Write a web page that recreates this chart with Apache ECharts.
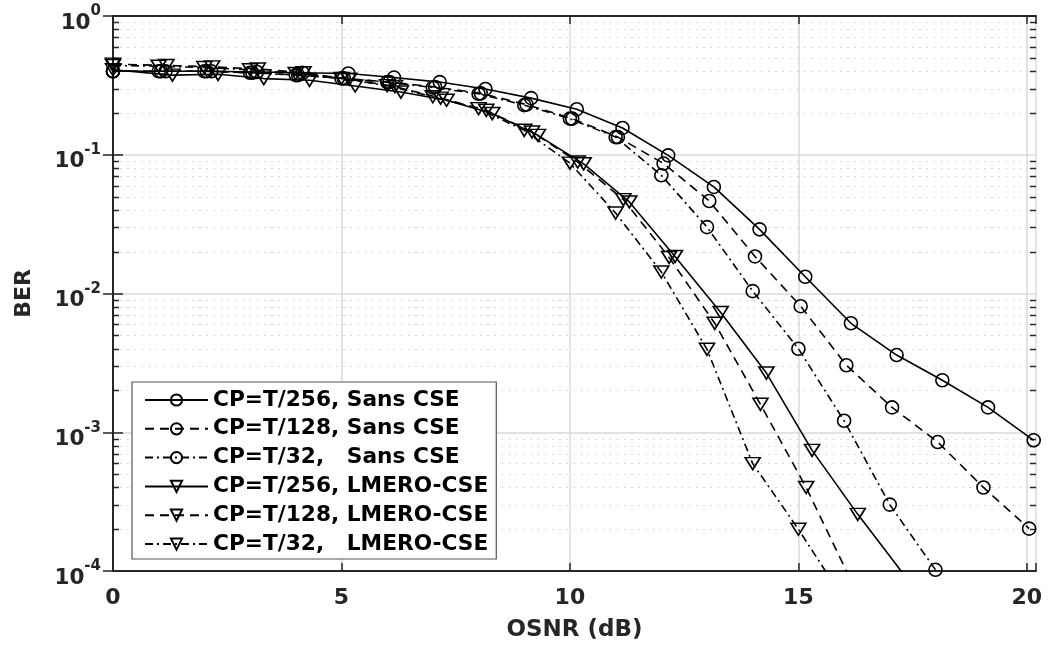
<!DOCTYPE html>
<html><head><meta charset="utf-8">
<script src="https://cdn.jsdelivr.net/npm/echarts@6/dist/echarts.min.js"></script>
<style>html,body{margin:0;padding:0;background:#fff}#c{width:1048px;height:650px}</style>
</head><body><div id="c"></div>
<script>
const seriesNames = ['CP=T/256, Sans CSE','CP=T/128, Sans CSE','CP=T/32,   Sans CSE','CP=T/256, LMERO-CSE','CP=T/128, LMERO-CSE','CP=T/32,   LMERO-CSE'];

const x256Sans = [0,1.15,2.15,3.15,4.15,5.15,6.15,7.15,8.15,9.15,10.15,11.15,12.15,13.15,14.15,15.15,16.15,17.15,18.15,19.15,20.15];
const ber256Sans = [0.40,0.40,0.40,0.395,0.39,0.385,0.36,0.334,0.298,0.256,0.213,0.156,0.099,0.0586,0.029,0.0132,0.0061,0.0036,0.00237,0.00151,0.000875];

const x128Sans = [0,1.05,2.05,3.05,4.05,5.05,6.05,7.05,8.05,9.05,10.05,11.05,12.05,13.05,14.05,15.05,16.05,17.05,18.05,19.05,20.05];
const ber128Sans = [0.40,0.40,0.40,0.39,0.375,0.355,0.334,0.308,0.277,0.23,0.182,0.134,0.0864,0.0464,0.0185,0.0081,0.00304,0.00151,0.00085,0.0004,0.000202];

const x32Sans = [0,1,2,3,4,5,6,7,8,9,10,11,12,13,14,15,16,17,18];
const ber32Sans = [0.40,0.40,0.40,0.39,0.375,0.355,0.334,0.305,0.275,0.228,0.182,0.134,0.0711,0.0301,0.0104,0.0040,0.00121,0.000301,0.000102];

const x256Lm = [0,1.3,2.3,3.3,4.3,5.3,6.3,7.3,8.3,9.3,10.3,11.3,12.3,13.3,14.3,15.3,16.3,17.3];
const ber256Lm = [0.41,0.375,0.38,0.354,0.344,0.313,0.283,0.247,0.198,0.138,0.086,0.0457,0.0185,0.0073,0.00267,0.00074,0.000256,0.000095];

const x128Lm = [0,1.17,2.17,3.17,4.17,5.17,6.17,7.17,8.17,9.17,10.17,11.17,12.17,13.17,14.17,15.17,16.17];
const ber128Lm = [0.45,0.44,0.43,0.415,0.39,0.35,0.31,0.256,0.209,0.146,0.0887,0.0475,0.0182,0.0061,0.00159,0.0004,0.000083];

const x32Lm = [0,1,2,3,4,5,6,7,8,9,10,11,12,13,14,15,16];
const ber32Lm = [0.44,0.435,0.425,0.41,0.385,0.355,0.315,0.262,0.215,0.15,0.087,0.038,0.0143,0.00396,0.000594,0.0002,0.000062];

const xTickLabels = ['0','5','10','15','20'];
const decadeValues = [1e-4,1e-3,1e-2,1e-1];
const minorMultipliers = [2,3,4,5,6,7,8,9];

const FONT = 'DejaVu Sans';
const TXT = '#262626';
const TRI = 'path://M0,0L20,0L10,16Z';

const minorVals = [];
decadeValues.forEach(d => minorMultipliers.forEach(m => minorVals.push(d * m)));

const zip = (xs, ys) => xs.map((x, i) => [x, ys[i]]);

const styles = [
  {sym:'circle', size:13, dash:'solid'},
  {sym:'circle', size:13, dash:[9,6]},
  {sym:'circle', size:13, dash:[8,4,2,4]},
  {sym:TRI, size:[15,12], dash:'solid'},
  {sym:TRI, size:[15,12], dash:[9,6]},
  {sym:TRI, size:[15,12], dash:[8,4,2,4]}
];
const dataSets = [zip(x256Sans,ber256Sans), zip(x128Sans,ber128Sans), zip(x32Sans,ber32Sans),
                  zip(x256Lm,ber256Lm), zip(x128Lm,ber128Lm), zip(x32Lm,ber32Lm)];

const lineSeries = seriesNames.map((name, i) => ({
  name, type:'line', xAxisIndex:0, yAxisIndex:0, z:3,
  data: dataSets[i],
  symbol: styles[i].sym, symbolSize: styles[i].size, showSymbol:true, showAllSymbol:true,
  clip:true,
  lineStyle:{color:'#000', width:1.6, type:styles[i].dash},
  itemStyle:{color:'rgba(255,255,255,0)', borderColor:'#000', borderWidth:1.6},
  emphasis:{disabled:true}
}));

const minorSeries = {
  type:'custom', xAxisIndex:0, yAxisIndex:0, z:1, silent:true,
  data: minorVals.map(v => [0, v]),
  renderItem(params, api) {
    const cs = params.coordSys;
    const y = Math.round(api.coord([0, api.value(1)])[1]) + 0.5;
    return {type:'group', children:[
      {type:'line', shape:{x1:cs.x, y1:y, x2:cs.x + cs.width, y2:y}, style:{stroke:'#c4c4c4', lineWidth:1.2, lineDash:[1.2,6]}},
      {type:'line', shape:{x1:cs.x, y1:y, x2:cs.x + 6, y2:y}, style:{stroke:TXT, lineWidth:1.5}},
      {type:'line', shape:{x1:cs.x + cs.width - 6, y1:y, x2:cs.x + cs.width, y2:y}, style:{stroke:TXT, lineWidth:1.5}}
    ]};
  }
};

const axisLineStyle = {show:true, lineStyle:{color:TXT, width:2}};
const splitStyle = {show:true, lineStyle:{color:'#dadada', width:1.5, type:'solid'}};

const yLabelFmt = v => {
  const e = Math.round(Math.log10(v));
  return '{b|10}{s|' + (e === 0 ? '0' : String(e)) + '}';
};

const chart = echarts.init(document.getElementById('c'), null, {renderer:'canvas'});
chart.setOption({
  animation:false,
  backgroundColor:'#fff',
  grid:{left:113, top:16, right:12, bottom:79},
  legend:{
    orient:'vertical', left:132, top:382,
    backgroundColor:'#fff', borderColor:'#555', borderWidth:1.2,
    padding:[7,8,4,12], itemWidth:63, itemHeight:14, itemGap:6.8,
    textStyle:{fontFamily:FONT, fontWeight:'bold', fontSize:21.7, color:'#000'},
    data: seriesNames
  },
  xAxis:[
    {type:'value', position:'bottom', min:0, max:20.2, interval:5,
     name:'OSNR (dB)', nameLocation:'middle', nameGap:48,
     nameTextStyle:{fontFamily:FONT, fontWeight:'bold', fontSize:23, color:TXT},
     axisLine:axisLineStyle,
     axisTick:{show:true, inside:true, length:8, lineStyle:{color:TXT, width:1.5}},
     axisLabel:{margin:16, fontFamily:FONT, fontWeight:'bold', fontSize:22, color:TXT,
       formatter: v => { const i = xTickLabels.indexOf(String(v)); return i >= 0 ? xTickLabels[i] : ''; }},
     splitLine:splitStyle},
    {type:'value', position:'top', min:0, max:20.2, interval:5,
     axisLine:axisLineStyle,
     axisTick:{show:true, inside:true, length:8, lineStyle:{color:TXT, width:1.5}},
     axisLabel:{show:false}, splitLine:{show:false}}
  ],
  yAxis:[
    {type:'log', logBase:10, min:1e-4, max:1, position:'left',
     name:'BER', nameLocation:'middle', nameGap:78, nameRotate:90,
     nameTextStyle:{fontFamily:FONT, fontWeight:'bold', fontSize:22, color:TXT},
     axisLine:axisLineStyle,
     axisTick:{show:true, inside:true, length:10, lineStyle:{color:TXT, width:1.5}},
     axisLabel:{margin:12, formatter:yLabelFmt, padding:[6,0,0,0],
       rich:{
         b:{fontFamily:FONT, fontWeight:'bold', fontSize:21.5, color:TXT, verticalAlign:'bottom', lineHeight:30},
         s:{fontFamily:FONT, fontWeight:'bold', fontSize:15, color:TXT, verticalAlign:'top', lineHeight:30}
       }},
     splitLine:splitStyle},
    {type:'log', logBase:10, min:1e-4, max:1, position:'right',
     axisLine:axisLineStyle,
     axisTick:{show:true, inside:true, length:10, lineStyle:{color:TXT, width:1.5}},
     axisLabel:{show:false}, splitLine:{show:false}}
  ],
  series:[minorSeries, ...lineSeries]
});
</script>
</body></html>
